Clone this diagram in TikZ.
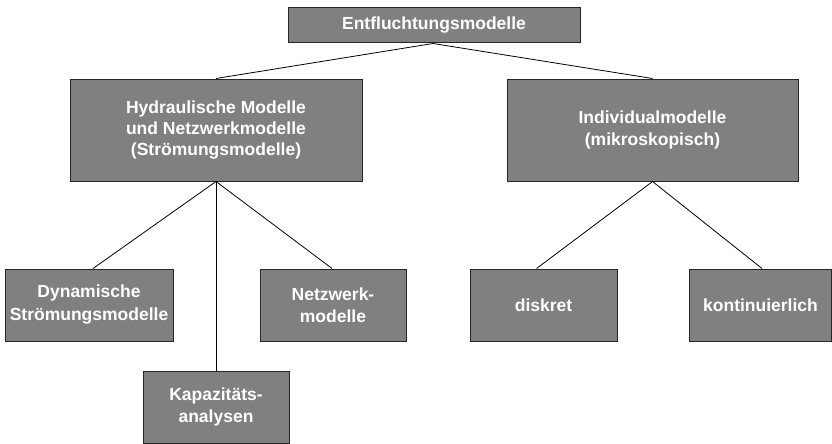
\documentclass[tikz,border=0pt]{standalone}
\usepackage{fontspec}
\setmainfont{Liberation Sans}
\usetikzlibrary{calc}
\begin{document}
\begin{tikzpicture}[x=1pt,y=-1pt,
  box/.style={draw=black!85,line width=1pt,fill={rgb,255:red,128;green,128;blue,128},
    text=white,font=\bfseries\fontsize{17.5}{22}\selectfont,align=center,inner sep=0pt},
  conn/.style={draw=black,line width=0.8pt}]
\useasboundingbox (0,0) rectangle (832,444);
\node[box,minimum width=292pt,minimum height=35pt] (top) at (434,25.5) {\raisebox{-1.5pt}{Entfluchtungsmodelle}};
\node[box,minimum width=292pt,minimum height=102pt,font=\bfseries\fontsize{17.5}{21}\selectfont] (hyd) at (216,130) {Hydraulische Modelle\\und Netzwerkmodelle\\(Strömungsmodelle)};
\node[box,minimum width=291pt,minimum height=102pt] (ind) at (652.5,130) {Individualmodelle\\(mikroskopisch)};
\node[box,minimum width=168pt,minimum height=72pt,font=\bfseries\fontsize{17.5}{23}\selectfont] (dyn) at (89,305) {Dynamische\\Strömungsmodelle};
\node[box,minimum width=146pt,minimum height=72pt] (netz) at (333,305) {Netzwerk-\\modelle};
\node[box,minimum width=146pt,minimum height=72pt] (kap) at (216,407) {Kapazitäts-\\analysen};
\node[box,minimum width=147pt,minimum height=72pt] (disk) at (543.5,305) {diskret};
\node[box,minimum width=142pt,minimum height=72pt] (kont) at (760.5,305) {kontinuierlich};
\draw[conn] ($(top.south)+(-1,0)$) -- (hyd.north);
\draw[conn] ($(top.south)+(-1,0)$) -- (ind.north);
\draw[conn] (hyd.south) -- ($(dyn.north)+(4,0)$);
\draw[conn] (hyd.south) -- ($(netz.north)+(-1,0)$);
\draw[conn] (hyd.south) -- (kap.north);
\draw[conn] (ind.south) -- ($(disk.north)+(-7,0)$);
\draw[conn] (ind.south) -- ($(kont.north)+(1.5,0)$);
\end{tikzpicture}
\end{document}
